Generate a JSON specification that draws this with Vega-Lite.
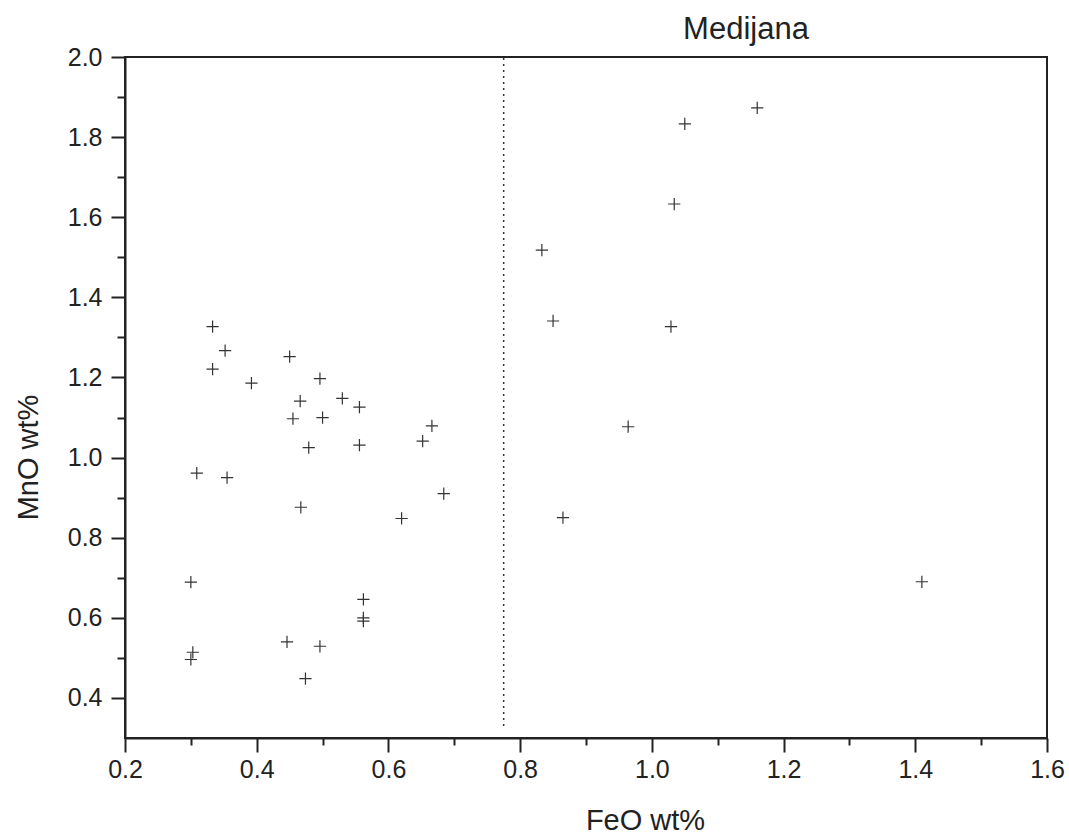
{
  "$schema": "https://vega.github.io/schema/vega-lite/v6.json",
  "autosize": "none",
  "padding": {"left": 125, "top": 57, "right": 22, "bottom": 102},
  "width": 922,
  "height": 681,
  "background": "white",
  "config": {
    "font": "Liberation Sans",
    "view": {"stroke": "#222", "strokeWidth": 2},
    "axis": {"grid": false, "domainColor": "#222", "tickColor": "#222", "labelColor": "#222", "titleColor": "#222", "titleFontWeight": "normal", "domainWidth": 2, "tickWidth": 2}
  },
  "title": {
    "text": "Medijana",
    "fontSize": 31,
    "fontWeight": "normal",
    "color": "#222",
    "anchor": "middle",
    "frame": "group",
    "dx": 160,
    "dy": 43,
    "baseline": "alphabetic",
    "offset": 18
  },
  "datasets": {
    "points": [
      {"FeO": 0.333, "MnO": 1.327},
      {"FeO": 0.352, "MnO": 1.267},
      {"FeO": 0.333, "MnO": 1.221},
      {"FeO": 0.392, "MnO": 1.186},
      {"FeO": 0.450, "MnO": 1.252},
      {"FeO": 0.496, "MnO": 1.197},
      {"FeO": 0.466, "MnO": 1.141},
      {"FeO": 0.530, "MnO": 1.148},
      {"FeO": 0.556, "MnO": 1.126},
      {"FeO": 0.455, "MnO": 1.097},
      {"FeO": 0.500, "MnO": 1.100},
      {"FeO": 0.666, "MnO": 1.079},
      {"FeO": 0.652, "MnO": 1.041},
      {"FeO": 0.479, "MnO": 1.025},
      {"FeO": 0.556, "MnO": 1.031},
      {"FeO": 0.309, "MnO": 0.961},
      {"FeO": 0.355, "MnO": 0.950},
      {"FeO": 0.684, "MnO": 0.910},
      {"FeO": 0.467, "MnO": 0.876},
      {"FeO": 0.620, "MnO": 0.848},
      {"FeO": 0.300, "MnO": 0.689},
      {"FeO": 0.562, "MnO": 0.646},
      {"FeO": 0.562, "MnO": 0.600},
      {"FeO": 0.562, "MnO": 0.592},
      {"FeO": 0.446, "MnO": 0.540},
      {"FeO": 0.496, "MnO": 0.529},
      {"FeO": 0.303, "MnO": 0.514},
      {"FeO": 0.300, "MnO": 0.496},
      {"FeO": 0.474, "MnO": 0.448},
      {"FeO": 0.833, "MnO": 1.518},
      {"FeO": 0.850, "MnO": 1.341},
      {"FeO": 0.865, "MnO": 0.850},
      {"FeO": 0.964, "MnO": 1.077},
      {"FeO": 1.029, "MnO": 1.327},
      {"FeO": 1.034, "MnO": 1.633},
      {"FeO": 1.050, "MnO": 1.833},
      {"FeO": 1.160, "MnO": 1.873},
      {"FeO": 1.410, "MnO": 0.690}
    ],
    "median": [
      {"FeO": 0.775, "MnOstart": 0.33, "MnOend": 2.0}
    ]
  },
  "layer": [
    {
      "data": {"name": "points"},
      "mark": {"type": "point", "shape": "M-1,0L1,0M0,-1L0,1", "size": 150, "filled": false, "color": "#333", "strokeWidth": 1.2, "opacity": 1},
      "encoding": {
        "x": {
          "field": "FeO", "type": "quantitative",
          "scale": {"domain": [0.2, 1.6], "nice": false, "zero": false},
          "axis": {
            "orient": "bottom",
            "values": [0.2, 0.4, 0.6, 0.8, 1.0, 1.2, 1.4, 1.6],
            "format": ".1f",
            "tickSize": 14,
            "labelFontSize": 25,
            "labelPadding": 5,
            "labelFlush": false,
            "labelOverlap": false,
            "title": "FeO wt%",
            "titleFontSize": 29,
            "titleX": 520,
            "titleY": 82,
            "titleBaseline": "middle",
            "titleAlign": "center"
          }
        },
        "y": {
          "field": "MnO", "type": "quantitative",
          "scale": {"domain": [0.3, 2.0], "nice": false, "zero": false},
          "axis": {
            "orient": "left",
            "values": [0.4, 0.6, 0.8, 1.0, 1.2, 1.4, 1.6, 1.8, 2.0],
            "format": ".1f",
            "tickSize": 14,
            "labelFontSize": 25,
            "labelPadding": 9,
            "labelFlush": false,
            "labelOverlap": false,
            "title": "MnO wt%",
            "titleFontSize": 29,
            "titleAngle": 270,
            "titleX": -97,
            "titleY": 400,
            "titleBaseline": "middle",
            "titleAlign": "center"
          }
        }
      }
    },
    {
      "data": {"name": "median"},
      "mark": {"type": "rule", "color": "#333", "strokeWidth": 1.5, "strokeDash": [2, 4]},
      "encoding": {
        "x": {
          "field": "FeO", "type": "quantitative",
          "axis": {
            "orient": "bottom",
            "values": [0.3, 0.5, 0.7, 0.9, 1.1, 1.3, 1.5],
            "labels": false,
            "domain": false,
            "tickSize": 7,
            "title": null
          }
        },
        "y": {
          "field": "MnOstart", "type": "quantitative",
          "axis": {
            "orient": "left",
            "values": [0.5, 0.7, 0.9, 1.1, 1.3, 1.5, 1.7, 1.9],
            "labels": false,
            "domain": false,
            "tickSize": 8,
            "title": null
          }
        },
        "y2": {"field": "MnOend"}
      }
    }
  ],
  "resolve": {"axis": {"x": "independent", "y": "independent"}}
}
